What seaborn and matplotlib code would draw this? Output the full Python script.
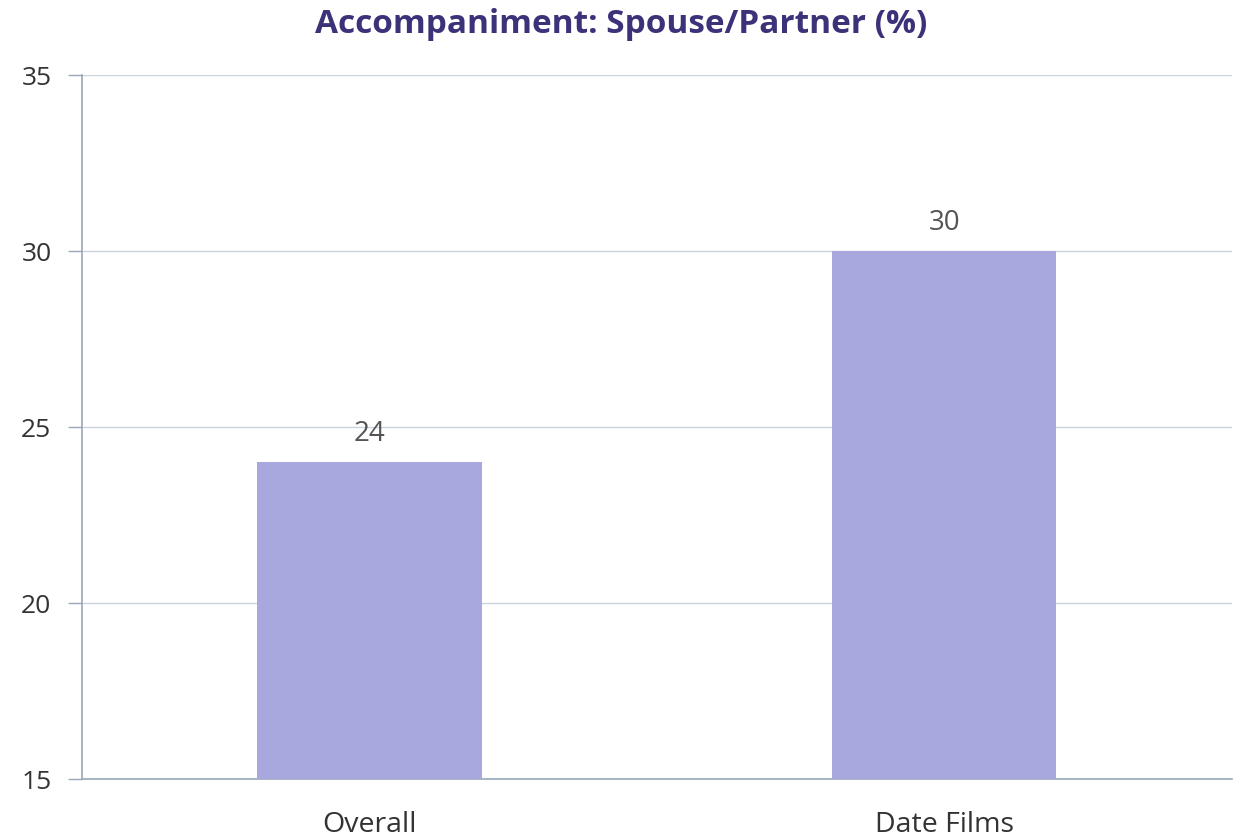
import matplotlib
matplotlib.use("Agg")
import matplotlib.pyplot as plt
import seaborn as sns
import pandas as pd

categories = ["Overall", "Date Films"]
values = [24, 30]
title = "Accompaniment: Spouse/Partner (%)"
yticks = [15, 20, 25, 30, 35]

sns.set_theme(style="white")
plt.rcParams["font.family"] = ["Open Sans", "DejaVu Sans"]

df = pd.DataFrame({"cat": categories, "val": values})

fig = plt.figure(figsize=(12.43, 8.39), dpi=100)
ax = fig.add_axes([0.066, 0.0715, 0.925, 0.839])

sns.barplot(data=df, x="cat", y="val", color="#a8a8de", saturation=1,
            width=0.39, ax=ax, zorder=3, linewidth=0)

ax.set_ylim(15, 35)
ax.set_xlim(-0.5, 1.5)
ax.set_yticks(yticks)
ax.set_yticklabels([str(t) for t in yticks])
ax.grid(axis="y", color="#ccd3db", linewidth=1, zorder=0)
ax.set_axisbelow(True)
for s in ["top", "right"]:
    ax.spines[s].set_visible(False)
for s in ["left", "bottom"]:
    ax.spines[s].set_color("#9aa7b8")
    ax.spines[s].set_linewidth(1.2)
ax.tick_params(axis="y", length=10, width=1, color="#9aa7b8", labelsize=19,
               labelcolor="#333333", pad=12, left=True)
ax.tick_params(axis="x", length=0, labelsize=20.5, labelcolor="#333333", pad=23)
ax.set_xlabel("")
ax.set_ylabel("")

for i, v in enumerate(values):
    ax.annotate(str(v), (i, v), xytext=(0, 10), textcoords="offset points",
                ha="center", va="bottom", fontsize=20, color="#555555")

fig.suptitle(title, x=0.5, y=0.99, va="top", fontsize=24, fontweight="bold",
             color="#3b3279")

fig.savefig("out.png", dpi=100)
